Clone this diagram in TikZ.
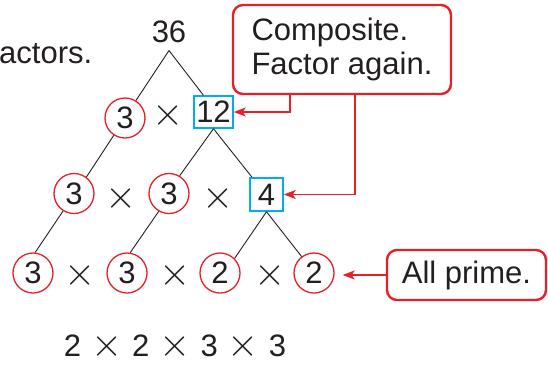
\RequirePackage{fix-cm}
\documentclass[tikz,border=0pt]{standalone}
\usepackage{fontspec}
\setmainfont{Liberation Sans}
\usetikzlibrary{arrows.meta,calc}
\definecolor{cred}{RGB}{230,32,40}
\definecolor{ccyan}{RGB}{0,174,239}
\definecolor{ctext}{RGB}{35,31,32}
\newcommand{\tms}{{\fontsize{40}{44}\selectfont$\times$}}
\begin{document}
\begin{tikzpicture}[x=1pt,y=-1pt,
  every node/.style={text=ctext, font=\fontsize{31}{34}\selectfont},
  prime/.style={circle, draw=cred, line width=1.3pt, minimum size=40pt, inner sep=0pt},
  comp/.style={rectangle, draw=ccyan, line width=1.5pt, inner sep=0pt},
  times/.style={inner sep=0pt},
  branch/.style={draw=ctext, line width=0.9pt},
  callout/.style={draw=cred, line width=2.4pt, rounded corners=10pt, inner sep=0pt},
  pointer/.style={draw=cred, line width=1.5pt, -{Stealth[length=12pt,width=9pt,inset=3pt]}}
]
\useasboundingbox (0,0) rectangle (548,365);

% partial heading text
\node[anchor=base west, inner sep=0pt] (t0) at (-1,63) {actors.};

% tree
\node[anchor=base, inner xsep=0pt, inner ysep=8pt] (n36) at (169,42) {36};

\node[prime] (r1a) at (125,118) {3};
\node[times] (x1) at (168,115) {\tms};
\node[comp, minimum width=39pt, minimum height=32pt] (r1b) at (213.5,112) {12};

\node[prime] (r2a) at (74,193.5) {3};
\node[times] (x2a) at (121,198) {\tms};
\node[prime] (r2b) at (169,193.5) {3};
\node[times] (x2b) at (218,198) {\tms};
\node[comp, minimum width=33pt, minimum height=33pt] (r2c) at (266.5,194.5) {4};

\node[prime] (r3a) at (33,273) {3};
\node[times] (x3a) at (80,275) {\tms};
\node[prime] (r3b) at (127,273) {3};
\node[times] (x3b) at (175,275) {\tms};
\node[prime] (r3c) at (220,273) {2};
\node[times] (x3c) at (270,275) {\tms};
\node[prime] (r3d) at (314,273) {2};

\draw[branch] (n36.south) -- (r1a.58);
\draw[branch] (n36.south) -- (r1b.121);
\draw[branch] (r1a.237) -- (r2a.53);
\draw[branch] (r1b.south) -- (r2b.59);
\draw[branch] (r1b.south) -- (r2c.130);
\draw[branch] (r2a.238) -- (r3a.84);
\draw[branch] (r2b.240) -- (r3b.81);
\draw[branch] (r2c.south) -- (r3c.45);
\draw[branch] (r2c.south) -- (r3d.127);

% callouts
\node[callout, minimum width=218pt, minimum height=89pt, align=left] (c1) at (342,49.5) {Composite.\\Factor again.};
\node[callout, minimum width=159pt, minimum height=50pt] (c2) at (466.5,275) {All prime.};

\draw[pointer] ([xshift=58pt]c1.south west) |- (r1b.east);
\draw[pointer] ([xshift=123pt]c1.south west) |- (r2c.east);
\draw[pointer, shorten >=8pt] (c2.west) -- (c2.west -| r3d.east);

% product
\node[anchor=base, inner sep=0pt] (prod) at (175,356) {2\hspace{10pt}\tms\hspace{10pt}2\hspace{10pt}\tms\hspace{10pt}3\hspace{10pt}\tms\hspace{10pt}3};
\end{tikzpicture}
\end{document}
